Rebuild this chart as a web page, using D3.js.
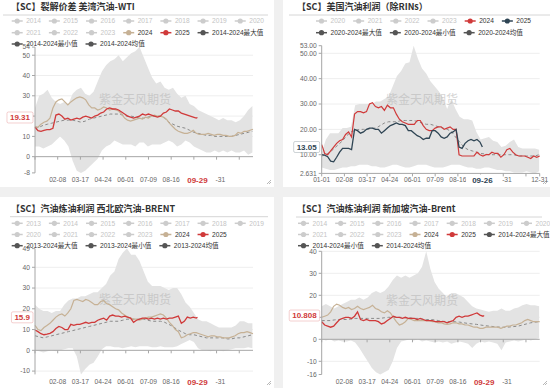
<!DOCTYPE html>
<html>
<head>
<meta charset="utf-8">
<script src="https://cdn.jsdelivr.net/npm/d3@7"></script>
<style>
  body { margin: 0; background: #f0f0f0; }
  svg { display: block; font-family: "Liberation Sans", "Noto Sans CJK SC", sans-serif; }
</style>
</head>
<body>
<svg></svg>
<script>
// x axis: day of year (2024 calendar), labels as shown on each panel
var xLabelsLeft = ["02-08", "03-17", "04-24", "06-01", "07-09", "08-16"];
var xLabelsTR = ["01-01", "02-08", "03-17", "04-24", "06-01", "07-09", "08-16", "12-31"];
var xTickNames = ["01-01", "02-08", "03-17", "04-24", "06-01", "07-09", "08-16", "09-23", "10-31", "12-08"];
// label partly hidden behind the latest-date label: only its tail shows
var xPartial = { date: "10-31", shown: "-31" };

// sampling of the series (every 7 days for band/avg, every 5 days for year lines)
var days7 = d3.range(0, 365, 7);
var days5 = d3.range(0, 366, 5);

// ---- [SC] 裂解价差 美湾汽油-WTI
var tlYTicks = [-8, 0, 10, 20, 30, 40, 50, 54];
var tlYHidden = [20];
var tlMax = [24,30,31,33,29,27,26,27,26,31, 33,34,31,30,32,37,42,45,47,48, 50,47,49,51,52,54,49,44,39,36,
  37,34,33,34,31,29,30,26,25,23, 22,21,20,19,18,19,18,18,17,18, 20,23,25];
var tlMin = [5,5,4,5,6,8,10,8,5,-2, -7,-8,-7,-5,-3,-1,3,5,6,8, 7,6,6,6,5,7,7,5,6,6,
  6,7,8,7,5,6,8,7,5,4, 3,2,2,3,2,3,2,3,2,2, 3,1,2];
var tlAvg = [14,14.5,15.5,16,16.5,17,17.5,18,18,18, 17.5,17,17.5,18.5,19,19.5,20,20.5,21,21,
  21,20.5,20,20,19.5,19,19,19.5,20,20, 20,19,17,16,15,14.5,14,13,12,11.5,
  11,10.5,10.5,10,10,10,10,10,10.5,11, 11.5,12,12.5];
var tl2024 = [15,14.5,16,17,17.5,19,24,27,28,28.5, 27,25.5,27,28,29,29.5,29,28,25.5,24,
  24,23,23.5,24.5,24,23,23.5,23,22.5,21, 19,18,17.5,18,18.5,19,18.5,19.5,19,20,
  20.5,20,20,19.5,18.5,16.5,15,13.5,12.5,12, 11.5,11.5,12,13,11.5,11,11,11,11.5,11,
  10.5,11,11,10.5,10.5,10,10,10.5,12,11.5, 12.5,12.5,13,13.5];
var tl2025 = [14.5,12.8,12.5,13,13.3,13.3,14,20.5,21,20, 18.5,19,18,18.5,19,18.5,19.5,20,19.5,19,
  20,20.5,21.5,22,23.5,24,23.5,23.5,23,22, 21,20,19.5,19,19.5,20,21,20.5,21,20.5,
  20,19.5,20,21.5,22,23.5,23,22.5,22.5,21.5, 21,20.5,20,19.5,19];
var tlLast = { date: "09-29", value: 19.31 };

// ---- [SC] 美国汽油利润（除RINs）
var trYTicks = [2.631, 10, 20, 30, 40, 50, 53];
var trYHidden = [];
var trMax = [11,16,18.5,18.5,18.5,20.5,20.5,21,29.5,30, 30,30,30,31,31,32,33,37,41,43,
  46,46.5,53,48,44,42,39,37,35,32.5, 28,32,28,25,24,24,23.5,19,16,16.5,
  17,15.5,15,13,13.5,15,16,13,12.5,12.5, 12.5,12.5,12];
var trMin = [5,4.5,4,4,4.5,5,5,5.5,5.5,6, 6,6,5.5,5.5,5,5,5.5,6,6,5.5, 5,5,5.5,6,6,6,5.5,5,5,5,
  5.5,6,6,6,5.5,5,5,4.5,4.5,5, 5,4.5,4,4,3.5,3.5,3,3,3,3.5, 3,2.631,3.5];
var trAvg = [9.5,10,11,12.5,14,15.5,17.5,19,19.5,20, 20,20,20.5,20.5,21.5,22.5,23,23,23,23.5,
  23.5,23.5,23.5,23,22.5,22,22,21.5,21,20.5, 20,19.2,17,15,13,12,11.5,11,10.5,10.3,
  10,10,10,10,10,10,10,9.5,9.5,9.5, 9.5,9.5,10];
var tr2024 = [14,10.5,10,11.5,13,14.5,15.5,16,18,19, 17,26,27,27,26.5,27,30,30.5,29,28.5,
  29,27.5,29.5,28.5,28.5,26,24,23,22.5,22, 22,22,23.5,23.5,21.5,20,19.5,19.5,20.5,21,
  21,20,20.5,21,20,20,10,9.5,9.5,9.5, 9.5,9.5,11,10,9.5,10,10,11,10.5,10.5,
  9,10,12,12.5,11,10,9.5,9.5,9.5,9, 8.5,9.5,9,9.5];
var tr2025 = [10,9.8,9.2,7.5,7.2,9,11,12.5,12.5,12.5, 12,20,19.5,18.5,19,20,20.5,20.5,20,20,
  18.5,19.5,20.5,21.5,22,22.5,22,22,21.5,19.5, 19.5,18.5,17.5,17,16,16.5,16.5,19.5,19.5,18.5,
  17,16.5,17,18.5,19,20,13,12.5,14.5,15.5, 16,15.5,16,15];
var trLast = { date: "09-26", value: 13.05 };

// ---- [SC] 汽油炼油利润 西北欧汽油-BRENT
var blYTicks = [-10, 0, 10, 20, 30, 40, 49];
var blYHidden = [];
var blMax = [22,20,19,19,18,19,19,22,24,25, 25,26,26,27,28,28,30,32,36,38, 44,47,49,46,46,43,38,33,31,31,
  31,30,29,30,30,27,23,21,18,15, 14,14,13,12,11,11,11,11,12,14, 14,13,13];
var blMin = [0,-0.5,-1,-0.5,0,-0.5,0,0.5,1,1, -3,-11.6,-9,-7,-6,-3,0.5,2,2,1.5, 1.5,1,1.5,2,1.5,2,2,2,1.5,1.5,
  2,1.5,1.5,1.5,2,3,4,5,4,1, 0,0,-0.5,0,0,-0.5,0,0.5,1,1, 1,1.5,1];
var blAvg = [7,6.5,6,6.5,7,7.5,8,8.5,9,9.5, 10,10.5,11,11.5,12,12.5,13,13.5,14,14,
  14,14.5,15,15,15,15,15,14.5,14,14, 14,13.5,12.5,11.5,10,9,8,7.5,7.5,7,
  6.5,6,6,6,6,6,5.5,5.5,6,6, 6.5,7,7.5];
var bl2024 = [12,10,9.5,11,12,13,14.5,16,17,17.5, 16.5,18,20,24,24.5,24,23.5,24.5,24,23,
  22,22,23.5,24,22.5,22,21,20,19.5,18, 17,16,15.5,15,15,14.5,15,15.5,16,16,
  16.5,17,17.5,17,15.5,13.5,12,10,9,6, 6.5,7.5,8,8.5,8.5,8,7.5,7,6.5,7,
  7,6.5,6.5,6,6,6,6.5,7,8,8.5, 8.5,9,8.5,8];
var bl2025 = [9.8,9,8,7.5,7.8,8.2,9,10.5,11.5,11, 10,10,12.5,12,12.5,12.5,13,13.5,13,13.5,
  13.5,14.5,15,15.5,14.5,16.5,17,16.5,16.5,16, 16.5,16,15.5,13.5,14.5,15,15.5,15.5,15,15.5,
  15,15.5,15,15.5,15,15.5,15.5,16,16.5,13, 14,16,15.5,16,15.5];
var blLast = { date: "09-29", value: 15.9 };

// ---- [SC] 汽油炼油利润 新加坡汽油-Brent
var brYTicks = [-16, -10, 0, 10, 20, 30, 40];
var brYHidden = [10];
var brMax = [15,16,15,14,15,16,17,18,18,19, 18,19,21,22,21,22,24,27,29,28, 29,28,29,30,33,40,32,26,23,21,
  19,21,21,20,19,17,15,14,13.5,13, 12.5,13,13,14,13,13,14,14.5,15.5,16, 15.5,15.5,15];
var brMin = [0,-0.5,0,-1,-0.5,-1,-1,-0.5,-1.5,-4, -7,-10,-13,-15,-16,-15,-14,-10,-4,-1,
  -0.5,0,-0.5,0,-1,-0.5,-1,-1.5,-1,-1.5, -1,-2,-1.5,-1,-1.5,-2,-4,-2,-1,-1.5,
  -1,-1.5,-2,-5,-1.5,-1,-0.5,-1,-0.5,0, -0.5,0,0.5];
var brAvg = [8.5,8.5,8.5,8.8,9,9,9,9.2,9.5,9.5, 9.5,9.5,9.5,9.5,9.5,9.8,10,10,10,10,
  9.8,9.8,9.5,9.5,9.2,9,9,8.8,8.5,8.2, 8,8,8,7.8,7.5,7.2,7,6.8,6.5,6.2,
  6,5.8,5.6,5.5,5.5,5.6,5.8,6,6.5,7, 7.5,7.8,8];
var br2024 = [10,10.5,11,12.5,15,16,15.5,14.5,14,14.5, 13.5,14,15,14,13.5,14,14.5,15.5,14,13.5,
  12.5,12,13,12,10,8,6.5,7,8,9.5, 9,8.5,8.5,8.5,8.5,8.5,8.5,8,8,7.5,
  7.5,7,6.8,7,7.5,7.5,7,7,6.5,6.5, 6,5.5,5.5,5,5,5.5,5.5,5.5,5.5,5.5,
  5,5.5,6,6,6.5,6.5,7,7.5,8.5,9, 8.5,8,8,8];
var br2025 = [8,6.5,6,5.5,6,7.5,9,9.5,10,10, 9.5,10.5,12.5,9,8.5,9,8.5,8.5,8.5,8,
  7,7.5,8.5,9.5,10.5,10,10,9.5,10,9.5, 9.5,9.5,9,9.5,9,8.5,8.5,8.5,8,8,
  8,8,7.5,8,8.5,10,10.5,10,10.5,10.5, 11,11.5,12,11,10.5];
var brLast = { date: "09-29", value: 10.808 };

// legends
var legTL = [["2014","2015","2016","2017","2018","2019","2020"],
  ["2021","2022","2023","2024","2025","2014-2024最大值"],
  ["2014-2024最小值","2014-2024均值"]];
var legTR = [["2020","2021","2022","2023","2024","2025"],
  ["2020-2024最大值","2020-2024最小值","2020-2024均值"]];
var legBL = [["2013","2014","2015","2016","2017","2018","2019"],
  ["2020","2021","2022","2023","2024","2025"],
  ["2013-2024最大值","2013-2024最小值","2013-2024均值"]];
var legBR = [["2014","2015","2016","2017","2018","2019","2020"],
  ["2021","2022","2023","2024","2025","2014-2024最大值"],
  ["2014-2024最小值","2014-2024均值"]];

var RED = "#d03a3a", TAN = "#c6b195", NAVY = "#2f4554", BAND = "#e3e3e3";

var svg = d3.select("svg").attr("width", 550).attr("height", 388);

function dayOf(s) {
  if (s === "12-31") return 365;
  var p = s.split("-");
  return d3.timeDay.count(new Date(2024, 0, 1), new Date(2024, +p[0] - 1, +p[1]));
}

function drawPanel(p) {
  var g = svg.append("g");
  g.append("rect").attr("x", p.box[0]).attr("y", p.box[1])
    .attr("width", p.box[2]).attr("height", p.box[3]).attr("fill", "#fff");

  g.append("text").attr("x", p.titleX).attr("y", p.titleY).attr("dy", "0.35em")
    .attr("font-size", 9).attr("font-weight", "bold").attr("fill", "#333")
    .attr("font-family", "\"Noto Sans CJK SC\", sans-serif")
    .text(p.title);
  g.append("line").attr("x1", p.rule[0]).attr("x2", p.rule[1])
    .attr("y1", p.rule[2]).attr("y2", p.rule[2]).attr("stroke", "#d6d6d6");

  var x = d3.scaleLinear().domain([0, 365]).range(p.xRange);
  var y = d3.scaleLinear().domain(p.yDomain).range(p.yRange);

  // split lines
  g.selectAll(null).data(p.grid).enter().append("line")
    .attr("x1", p.xRange[0]).attr("x2", p.xRange[1])
    .attr("y1", function(d) { return y(d); }).attr("y2", function(d) { return y(d); })
    .attr("stroke", "#eeeeee");

  // min-max band
  var band = days7.map(function(d, i) { return { day: d, lo: p.min[i], hi: p.max[i] }; });
  g.append("path").datum(band)
    .attr("d", d3.area().x(function(d) { return x(d.day); })
      .y0(function(d) { return y(d.lo); }).y1(function(d) { return y(d.hi); }))
    .attr("fill", BAND);

  // watermark
  g.append("text").attr("x", p.mark[0]).attr("y", p.mark[1]).attr("dy", "0.35em")
    .attr("text-anchor", "middle").attr("font-size", 12).attr("fill", "#b4b4b4")
    .attr("opacity", 0.55).attr("font-family", "\"Noto Sans CJK SC\", sans-serif")
    .text("紫金天风期货");

  var line = d3.line().x(function(d) { return x(d[0]); }).y(function(d) { return y(d[1]); });
  var avg = p.avg.map(function(v, i) { return [days7[i], v]; });
  var prev = p.prev.map(function(v, i) { return [days5[i], v]; });
  var cur = p.cur.map(function(v, i) { return [days5[i], v]; });
  var lastDay = dayOf(p.last.date);
  cur.push([lastDay, p.last.value]);

  g.append("path").datum(avg).attr("d", line).attr("fill", "none")
    .attr("stroke", "#8a8a8a").attr("stroke-width", 1).attr("stroke-dasharray", "3,2.5");
  g.append("path").datum(prev).attr("d", line).attr("fill", "none")
    .attr("stroke", p.prevColor).attr("stroke-width", 1.2);
  g.append("path").datum(cur).attr("d", line).attr("fill", "none")
    .attr("stroke", p.curColor).attr("stroke-width", 1.3);

  // y axis
  g.append("line").attr("x1", p.xRange[0]).attr("x2", p.xRange[0])
    .attr("y1", p.yRange[0]).attr("y2", p.yRange[1]).attr("stroke", "#a6a6a6");
  p.yTicks.forEach(function(v) {
    g.append("line").attr("x1", p.xRange[0] - 3).attr("x2", p.xRange[0])
      .attr("y1", y(v)).attr("y2", y(v)).attr("stroke", "#a6a6a6");
    if (p.yHidden.indexOf(v) >= 0) return;
    g.append("text").attr("x", p.xRange[0] - 5).attr("y", y(v)).attr("dy", "0.35em")
      .attr("text-anchor", "end").attr("font-size", 6.7).attr("fill", "#666")
      .text(p.yFormat(v));
  });

  // x axis
  var axisY = y(p.xAxisAt);
  g.append("line").attr("x1", p.xRange[0]).attr("x2", p.xRange[1])
    .attr("y1", axisY).attr("y2", axisY).attr("stroke", "#a6a6a6");
  var tickDays = xTickNames.map(dayOf);
  if (p.endTick) tickDays.push(365);
  tickDays.forEach(function(d) {
    g.append("line").attr("x1", x(d)).attr("x2", x(d))
      .attr("y1", axisY).attr("y2", axisY + 3).attr("stroke", "#a6a6a6");
  });
  p.xLabels.forEach(function(s) {
    g.append("text").attr("x", x(dayOf(s))).attr("y", p.xLabelY).attr("dy", "0.35em")
      .attr("text-anchor", "middle").attr("font-size", 6.7).attr("fill", "#666").text(s);
  });
  // partly covered label: keep the visible tail in place
  var pt = g.append("text").attr("y", p.xLabelY).attr("dy", "0.35em")
    .attr("font-size", 6.7).attr("fill", "#666").text(xPartial.date);
  var fullW = pt.node().getComputedTextLength();
  pt.attr("x", x(dayOf(xPartial.date)) + fullW / 2).attr("text-anchor", "end").text(xPartial.shown);

  // axis pointer labels for the latest point
  var xl = g.append("text").attr("x", x(lastDay)).attr("y", p.xLabelY).attr("dy", "0.35em")
    .attr("text-anchor", "middle").attr("font-size", 8).attr("font-weight", "bold")
    .attr("fill", p.curColor).text(p.last.date);
  var xw = xl.node().getComputedTextLength() + 12;
  g.insert("rect", function() { return xl.node(); })
    .attr("x", x(lastDay) - xw / 2).attr("y", p.xLabelY - 5.5)
    .attr("width", xw).attr("height", 11).attr("fill", "#fff");

  var yl = g.append("text").attr("y", y(p.last.value)).attr("dy", "0.35em")
    .attr("text-anchor", "middle").attr("font-size", 8).attr("font-weight", "bold")
    .attr("fill", p.curColor).text(p.last.value);
  var yw = yl.node().getComputedTextLength() + 6;
  var bx = p.xRange[0] - 2 - yw;
  yl.attr("x", bx + yw / 2);
  g.insert("rect", function() { return yl.node(); })
    .attr("x", bx).attr("y", y(p.last.value) - 5.5).attr("width", yw).attr("height", 11)
    .attr("rx", 1.5).attr("fill", "#fff").attr("stroke", p.curColor)
    .attr("stroke-opacity", 0.3).attr("stroke-width", 0.8);

  // legend
  var colors = {};
  colors[p.prevName] = p.prevColor;
  colors[p.curName] = p.curColor;
  p.legend.forEach(function(row, i) {
    var sx = p.legX, ly = p.legY[i];
    row.forEach(function(name) {
      var c = colors[name] || (/[最均]/.test(name) ? "#555" : null);
      var mc = c || "#cccccc";
      g.append("line").attr("x1", sx).attr("x2", sx + 11).attr("y1", ly).attr("y2", ly)
        .attr("stroke", mc).attr("stroke-width", 1.5);
      g.append("circle").attr("cx", sx + 5.5).attr("cy", ly).attr("r", 2.6).attr("fill", mc);
      var t = g.append("text").attr("x", sx + 14.5).attr("y", ly).attr("dy", "0.35em")
        .attr("font-size", 6.6).attr("fill", c ? "#333" : "#c4c4c4").text(name);
      sx += 14.5 + t.node().getComputedTextLength() + 8;
    });
  });

  // resize handle
  var hx = p.box[0] + p.box[2] - 3, hy = p.box[1] + p.box[3] - 3;
  g.append("path").attr("d", "M" + (hx - 4) + "," + hy + "L" + hx + "," + (hy - 4) +
      "M" + (hx - 2) + "," + hy + "L" + hx + "," + (hy - 2))
    .attr("stroke", "#999").attr("stroke-width", 0.7);
}

var intFmt = function(v) { return String(v); };

drawPanel({
  box: [0, 0, 274, 187], title: "【SC】裂解价差 美湾汽油-WTI", titleX: 11, titleY: 7.3,
  rule: [3, 268, 15], xRange: [35, 253], yDomain: [-8, 54], yRange: [172.9, 47.1],
  yTicks: tlYTicks, yHidden: tlYHidden, yFormat: intFmt, grid: [10, 20, 30, 40, 50], xAxisAt: 0,
  xLabels: xLabelsLeft, xLabelY: 180, endTick: false,
  max: tlMax, min: tlMin, avg: tlAvg, prev: tl2024, cur: tl2025, last: tlLast,
  prevName: "2024", curName: "2025", prevColor: TAN, curColor: RED,
  legend: legTL, legX: 11.7, legY: [21, 32.7, 44], mark: [135, 100]
});

drawPanel({
  box: [283, 0, 267, 187], title: "【SC】美国汽油利润（除RINs）", titleX: 297, titleY: 7,
  rule: [289, 550, 15], xRange: [321.7, 539.7], yDomain: [2.631, 53], yRange: [173.4, 45.7],
  yTicks: trYTicks, yHidden: trYHidden,
  yFormat: function(v) { return v === 2.631 ? "2.631" : v.toFixed(2); },
  grid: [10, 20, 30, 40, 50], xAxisAt: 2.631,
  xLabels: xLabelsTR, xLabelY: 180, endTick: true,
  max: trMax, min: trMin, avg: trAvg, prev: tr2024, cur: tr2025, last: trLast,
  prevName: "2024", curName: "2025", prevColor: RED, curColor: NAVY,
  legend: legTR, legX: 316, legY: [21, 32.7], mark: [422, 100]
});

drawPanel({
  box: [0, 197, 274, 191], title: "【SC】汽油炼油利润 西北欧汽油-BRENT", titleX: 11, titleY: 209.3,
  rule: [10, 268, 216.7], xRange: [35, 253], yDomain: [-11.6, 49], yRange: [374.4, 248.6],
  yTicks: blYTicks, yHidden: blYHidden, yFormat: intFmt, grid: [-10, 10, 20, 30, 40], xAxisAt: 0,
  xLabels: xLabelsLeft, xLabelY: 382, endTick: false,
  max: blMax, min: blMin, avg: blAvg, prev: bl2024, cur: bl2025, last: blLast,
  prevName: "2024", curName: "2025", prevColor: TAN, curColor: RED,
  legend: legBL, legX: 11.7, legY: [223.3, 234.5, 245.7], mark: [135, 300]
});

drawPanel({
  box: [283, 197, 267, 191], title: "【SC】汽油炼油利润 新加坡汽油-Brent", titleX: 297, titleY: 209,
  rule: [296, 542, 217], xRange: [321.7, 539.7], yDomain: [-16, 40], yRange: [374.5, 251.3],
  yTicks: brYTicks, yHidden: brYHidden, yFormat: intFmt, grid: [-10, 10, 20, 30, 40], xAxisAt: 0,
  xLabels: xLabelsLeft, xLabelY: 382, endTick: false,
  max: brMax, min: brMin, avg: brAvg, prev: br2024, cur: br2025, last: brLast,
  prevName: "2024", curName: "2025", prevColor: TAN, curColor: RED,
  legend: legBR, legX: 298, legY: [223.3, 234.5, 245.7], mark: [422, 301]
});
</script>
</body>
</html>
